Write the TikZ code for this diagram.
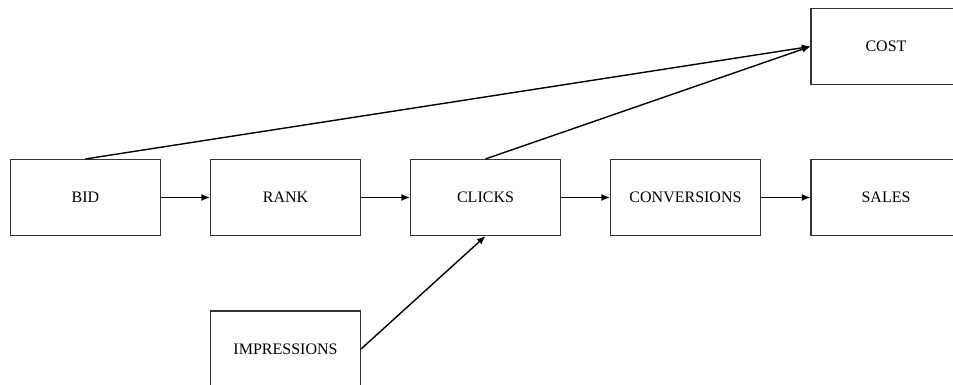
\documentclass[tikz,border=0pt]{standalone}
\usepackage{fontspec}
\setmainfont{Liberation Serif}
\usetikzlibrary{arrows.meta}
\begin{document}
\begin{tikzpicture}[x=1pt,y=-1pt,
  box/.style={draw=black!80,line width=1.1pt,minimum width=150pt,minimum height=76pt,inner sep=0pt,font=\fontsize{16}{19}\selectfont},
  conn/.style={line width=1.4pt,-{Latex[length=8.5pt,width=7pt]}}]
\clip (0,0) rectangle (953,385);
\useasboundingbox (0,0) rectangle (953,385);
\node[box] (bid) at (85.5,197.5) {BID};
\node[box] (rank) at (285.5,197.5) {RANK};
\node[box] (clicks) at (485.5,197.5) {CLICKS};
\node[box] (conv) at (685.5,197.5) {CONVERSIONS};
\node[box] (sales) at (886,197.5) {SALES};
\node[box] (cost) at (886,46.5) {COST};
\node[box] (imp) at (285.5,349) {IMPRESSIONS};
\draw[conn] (bid) -- (rank);
\draw[conn] (rank) -- (clicks);
\draw[conn] (clicks) -- (conv);
\draw[conn] (conv) -- (sales);
\draw[conn] (bid.north) -- (cost.west);
\draw[conn] (clicks.north) -- (cost.west);
\draw[conn] (imp.east) -- (clicks.south);
\end{tikzpicture}
\end{document}
